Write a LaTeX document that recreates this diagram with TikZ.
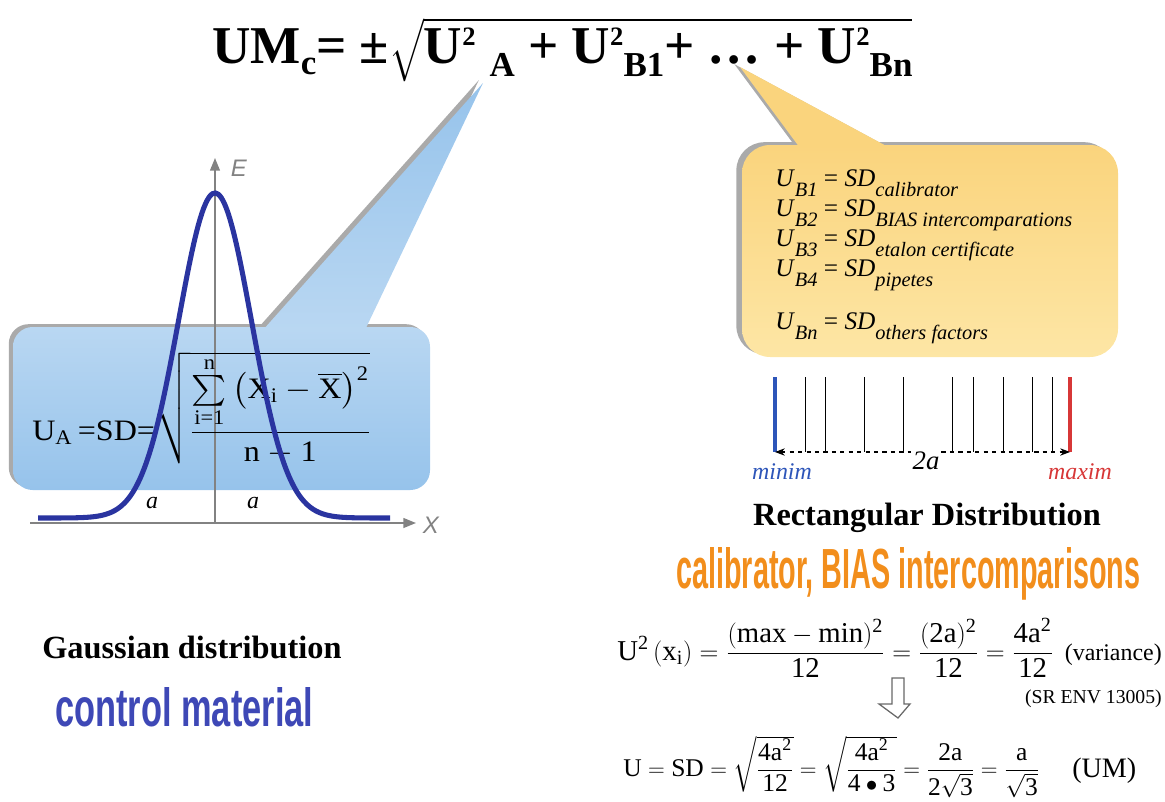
\documentclass[tikz,border=0pt]{standalone}
\usepackage{amsmath}
\usepackage{fontspec}
\setmainfont{Liberation Serif}
\setsansfont{Liberation Sans}
\usepackage{tikz}
\usetikzlibrary{arrows.meta, positioning}
\definecolor{calloutblue}{RGB}{150,195,235}
\definecolor{bluemid}{RGB}{185,215,242}
\definecolor{bluelight}{RGB}{230,241,251}
\definecolor{calloutyellow}{RGB}{250,212,125}
\definecolor{yellowlight}{RGB}{253,230,165}
\definecolor{shadowgray}{RGB}{170,170,170}
\definecolor{curveblue}{RGB}{42,52,160}
\definecolor{axisgray}{RGB}{130,130,130}
\definecolor{wordorange}{RGB}{242,142,28}
\definecolor{wordblue}{RGB}{62,72,182}
\definecolor{minblue}{RGB}{45,85,185}
\definecolor{maxred}{RGB}{215,55,55}
\newcommand{\fsz}[1]{\fontsize{#1}{#1}\selectfont}
\newcommand{\usq}[1]{U\raisebox{0.33em}{\fsz{19pt}2}\raisebox{-0.25em}{\fsz{25pt}#1}}
\newcommand{\umceq}{UM\raisebox{-0.22em}{\fsz{25pt}c}= ±$\sqrt{\text{\usq{\hspace{0.4em}A} + \usq{B1}+ … + \usq{Bn}}}$}
\newcommand{\uaeq}{$\text{U}_{\text{A}}\,\text{=SD=}\sqrt{\dfrac{\textstyle\sum\limits_{\text{i=1}}^{\text{n}}\left(\text{X}_{\text{i}} - \overline{\text{X}}\right)^{\text{2}}}{\text{n}-\text{1}}}$}
\newcommand{\vareq}{$\text{U}^{\text{2}}\left(\text{x}_{\text{i}}\right) = \dfrac{(\text{max} - \text{min})^{\text{2}}}{\text{12}} = \dfrac{(\text{2a})^{\text{2}}}{\text{12}} = \dfrac{\text{4a}^{\text{2}}}{\text{12}}$}
\newcommand{\umeq}{$\text{U} = \text{SD} = \sqrt{\dfrac{\text{4a}^{\text{2}}}{\text{12}}} = \sqrt{\dfrac{\text{4a}^{\text{2}}}{\text{4}\bullet\text{3}}} = \dfrac{\text{2a}}{\text{2}\sqrt{\text{3}}} = \dfrac{\text{a}}{\sqrt{\text{3}}}$}
\newcommand{\ubline}[2]{\textit{U}\raisebox{-0.4em}{\fsz{14.5pt}\itshape #1}\ = \textit{SD}\raisebox{-0.4em}{\fsz{14.5pt}\itshape #2}}

\begin{document}
\begin{tikzpicture}[x=0.025cm, y=-0.025cm]
    \useasboundingbox (0,0) rectangle (1165,802);

    % Headings
    \node[anchor=base west, inner sep=0pt, font={\bfseries\fsz{23pt}}] (gauss) at (42,658) {Gaussian distribution};
    \node[anchor=base, inner sep=0pt, font={\bfseries\fsz{23pt}}] (rectdist) at (927,525) {Rectangular Distribution};
    \node[anchor=base east, inner sep=0pt, font={\fsz{14pt}}] (srenv) at (1162,703) {(SR ENV 13005)};
    \node[anchor=base west, inner sep=0pt, text=wordorange] (calib) at (676,588)
        {\resizebox{11.6cm}{1.025cm}{\sffamily\bfseries calibrator, BIAS intercomparisons}};
    \node[anchor=base west, inner sep=0pt, text=wordblue] (control) at (55,726)
        {\resizebox{6.45cm}{0.975cm}{\sffamily\bfseries control material}};
    \node[anchor=base east, inner sep=0pt, font={\fsz{17pt}}] (varlabel) at (1162,660) {(variance)};
    \node[anchor=base west, inner sep=0pt, font={\fsz{20pt}}] (umlabel) at (1072,777) {(UM)};

    % Blue callout
    \fill[shadowgray, xshift=-3pt, yshift=2pt] (263,330) -- (483,83) -- (365,330) -- cycle;
    \fill[shadowgray, xshift=-3pt, yshift=2pt, rounded corners=14pt] (13,327) rectangle (430,490);
    \shade[top color=calloutblue, bottom color=bluemid] (263,330) -- (483,83) -- (365,330) -- cycle;
    \shade[rounded corners=14pt, top color=bluemid, middle color=bluelight, bottom color=calloutblue] (13,327) rectangle (430,490);

    % Yellow callout
    \fill[shadowgray, xshift=-4pt, yshift=2pt] (800,148) -- (740,67) -- (890,148) -- cycle;
    \fill[shadowgray, xshift=-4pt, yshift=2pt, rounded corners=20pt] (742,145) rectangle (1118,357);
    \fill[calloutyellow] (800,148) -- (740,67) -- (890,148) -- cycle;
    \shade[rounded corners=20pt, top color=calloutyellow, bottom color=yellowlight] (742,145) rectangle (1118,357);

    % Axes
    \coordinate (origin) at (215,523);
    \coordinate (ytip) at (215,158);
    \coordinate (xstart) at (30,523);
    \coordinate (xtip) at (416,523);
    \draw[axisgray, line width=1.2pt, -{Triangle[length=9pt, width=7pt]}] (origin) -- (ytip);
    \draw[axisgray, line width=1.2pt, -{Triangle[length=9pt, width=7pt]}] (xstart) -- (xtip);
    \node[font={\sffamily\itshape\fsz{17pt}}, text=axisgray, anchor=west] (elabel) at (226,168) {E};
    \node[font={\sffamily\itshape\fsz{17pt}}, text=axisgray, anchor=west] (xlabel) at (418,525) {X};

    % Rectangular distribution
    \foreach \xx in {805,825,864,903,952,973,1003,1032,1052}
        \draw[line width=0.7pt] (\xx,377) -- (\xx,452);
    \draw[minblue, line width=2.2pt] (775,377) -- (775,452);
    \draw[maxred, line width=2.2pt] (1070,377) -- (1070,452);
    \coordinate (lo) at (775,452);
    \coordinate (hi) at (1070,452);
    \draw[dashed, line width=0.8pt, {Stealth[length=7pt]}-{Stealth[length=7pt]}] (lo) -- (hi);
    \node[fill=white, inner sep=1pt, font={\itshape\fsz{19pt}}] (twoa) at (926,461) {2a};
    \node[font={\itshape\fsz{17pt}}, text=minblue] (minim) at (782,472) {minim};
    \node[font={\itshape\fsz{17pt}}, text=maxred] (maxim) at (1080,472) {maxim};
    \draw[axisgray!80!black, line width=0.9pt, fill=white] (892,678) -- (904,678) -- (904,704) -- (910,704)
        -- (898,718) -- (879,704) -- (892,704) -- cycle;

    % Formulas
    \node[anchor=base west, inner sep=0pt, font={\fsz{18pt}}] (ub1) at (775,186) {\ubline{B1}{calibrator}};
    \node[anchor=base west, inner sep=0pt, font={\fsz{18pt}}] (ub2) at (775,216) {\ubline{B2}{BIAS intercomparations}};
    \node[anchor=base west, inner sep=0pt, font={\fsz{18pt}}] (ub3) at (775,246) {\ubline{B3}{etalon certificate}};
    \node[anchor=base west, inner sep=0pt, font={\fsz{18pt}}] (ub4) at (775,276) {\ubline{B4}{pipetes}};
    \node[anchor=base west, inner sep=0pt, font={\fsz{18pt}}] (ubn) at (775,329) {\ubline{Bn}{others factors}};
    \node[anchor=base west, inner sep=0pt, font={\fsz{24pt}}] (ua) at (32,440) {\resizebox{8.45cm}{2.2cm}{\uaeq}};
    \node[anchor=base west, inner sep=0pt, font={\fsz{19pt}}] (variance) at (617,660) {\resizebox{10.9cm}{!}{\vareq}};
    \node[anchor=base west, inner sep=0pt, font={\fsz{19pt}}] (umformula) at (623,776) {\resizebox{10.4cm}{!}{\umeq}};
    \node[anchor=base west, inner sep=0pt, font={\fsz{38pt}\bfseries}] (umc) at (212,63) {\resizebox{17.5cm}{!}{\umceq}};

    % Gaussian curve
    \draw[curveblue, line width=3.6pt] plot[smooth, domain=-177:175, samples=120]
        ({215+\x}, {518-325*exp(-0.5*(\x/36.5)*(\x/36.5))});
    \node[font={\itshape\fsz{17pt}}] (aleft) at (152,503) {a};
    \node[font={\itshape\fsz{17pt}}] (aright) at (253,503) {a};
\end{tikzpicture}
\end{document}
